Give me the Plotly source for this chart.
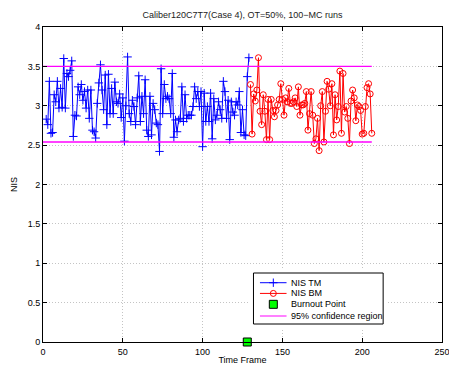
import plotly.graph_objects as go

# NIS of the track-mode filter (frames 2..129)
tm_frames = list(range(2, 130))
nis_tm = [
    2.83, 2.76, 3.31, 2.65, 2.66, 3.14, 3.05, 3.31, 2.97, 3.22,
    2.98, 3.60, 2.97, 3.41, 3.37, 3.45, 3.57, 2.61, 2.88, 2.87,
    3.24, 3.14, 3.27, 3.07, 3.18, 2.97, 3.20, 2.84, 3.20, 2.69,
    2.67, 2.59, 3.03, 3.29, 3.52, 3.20, 2.95, 3.39, 2.76, 3.40,
    2.90, 3.22, 2.90, 3.30, 3.05, 3.03, 3.15, 2.85, 3.10, 2.55,
    3.00, 3.62, 2.90, 2.80, 3.07, 2.99, 2.76, 3.10, 3.38, 2.80,
    3.12, 2.90, 3.33, 2.69, 2.61, 3.12, 2.63, 3.03, 2.95, 2.78,
    2.76, 2.42, 3.47, 2.90, 3.27, 3.09, 3.12, 3.09, 2.90, 3.41,
    2.60, 2.82, 2.67, 2.82, 2.84, 3.24, 2.80, 3.14, 2.84, 2.88,
    2.88, 2.88, 2.99, 3.24, 3.09, 3.18, 2.99, 3.18, 2.48, 3.16,
    2.80, 2.99, 2.80, 3.16, 2.58, 3.09, 2.82, 2.88, 3.05, 2.95,
    2.84, 3.31, 3.18, 2.84, 3.07, 2.57, 3.05, 2.92, 2.88, 3.05,
    3.01, 3.18, 2.66, 2.95, 2.63, 2.62, 3.37, 3.61,
]

# NIS of the burnout-mode filter (frames 130..206)
bm_frames = list(range(130, 207))
nis_bm = [
    3.27, 2.64, 3.15, 3.06, 3.20, 3.61, 2.93, 2.76, 3.14, 2.93,
    2.57, 3.08, 2.57, 3.08, 2.94, 2.86, 2.94, 3.01, 3.08, 3.28,
    3.08, 2.88, 3.10, 3.05, 3.22, 3.03, 3.03, 3.05, 3.10, 2.99,
    3.24, 2.88, 3.01, 3.01, 3.03, 3.18, 2.69, 2.90, 3.18, 2.88,
    2.52, 2.58, 2.84, 2.43, 3.00, 3.18, 2.54, 2.93, 3.31, 3.21,
    3.00, 3.28, 2.63, 3.14, 2.82, 2.99, 3.44, 2.65, 3.41, 2.92,
    2.99, 2.84, 2.52, 3.06, 3.20, 3.10, 2.81, 3.01, 2.99, 2.94,
    2.64, 2.65, 2.99, 3.23, 3.28, 3.15, 2.65,
]

burnout_frame = [128]
burnout_level = [0]

# 95% chi-square bounds (100 MC runs)
conf_frames = [0, 206]
conf_upper = 3.50
conf_lower = 2.54

x_ticks = [0, 50, 100, 150, 200, 250]
y_ticks = [0, 0.5, 1, 1.5, 2, 2.5, 3, 3.5, 4]
y_tick_text = ["0", "0.5", "1", "1.5", "2", "2.5", "3", "3.5", "4"]

legend_labels = ["NIS TM", "NIS BM", "Burnout Point", "95% confidence region"]

font = "Liberation Sans, Arial, sans-serif"
blue, red, green, magenta = "#0000ff", "#ff0000", "#00ff00", "#ff00ff"

fig = go.Figure()

fig.add_trace(go.Scatter(
    x=tm_frames, y=nis_tm, mode="lines+markers",
    line=dict(color=blue, width=1),
    marker=dict(symbol="cross-thin", size=6, color=blue,
                line=dict(color=blue, width=1)),
))
fig.add_trace(go.Scatter(
    x=bm_frames, y=nis_bm, mode="lines+markers",
    line=dict(color=red, width=1),
    marker=dict(symbol="circle-open", size=6, color=red,
                line=dict(color=red, width=1)),
))
fig.add_trace(go.Scatter(
    x=burnout_frame, y=burnout_level, mode="markers",
    marker=dict(symbol="square", size=8, color=green,
                line=dict(color="black", width=1)),
    cliponaxis=False,
))
for level in (conf_upper, conf_lower):
    fig.add_trace(go.Scatter(
        x=conf_frames, y=[level] * len(conf_frames), mode="lines",
        line=dict(color=magenta, width=1.3),
    ))

# --- boxed legend panel on its own hidden axes (unit square = box) ---
box = dict(xaxis="x2", yaxis="y2", hoverinfo="skip")
fig.add_trace(go.Scatter(
    x=[0, 1, 1, 0, 0], y=[0, 0, 1, 1, 0], mode="lines", fill="toself",
    fillcolor="white", line=dict(color="black", width=1), **box,
))
rows = [0.81, 0.60, 0.386, 0.157]
sample_x = [0.05, 0.255]
mark_x = [0.153]
fig.add_trace(go.Scatter(x=sample_x, y=[rows[0]] * 2, mode="lines",
                         line=dict(color=blue, width=1), **box))
fig.add_trace(go.Scatter(x=mark_x, y=[rows[0]], mode="markers",
                         marker=dict(symbol="cross-thin", size=6, color=blue,
                                     line=dict(color=blue, width=1)), **box))
fig.add_trace(go.Scatter(x=sample_x, y=[rows[1]] * 2, mode="lines",
                         line=dict(color=red, width=1), **box))
fig.add_trace(go.Scatter(x=mark_x, y=[rows[1]], mode="markers",
                         marker=dict(symbol="circle-open", size=6, color=red,
                                     line=dict(color=red, width=1)), **box))
fig.add_trace(go.Scatter(x=mark_x, y=[rows[2]], mode="markers",
                         marker=dict(symbol="square", size=8, color=green,
                                     line=dict(color="black", width=1)), **box))
fig.add_trace(go.Scatter(x=sample_x, y=[rows[3]] * 2, mode="lines",
                         line=dict(color="#ff80ff", width=2), **box))
for label, row in zip(legend_labels, rows):
    fig.add_annotation(x=0.277, y=row, xref="x2", yref="y2", text=label,
                       showarrow=False, xanchor="left", yanchor="middle",
                       font=dict(family=font, size=9, color="black"))

axis_common = dict(
    showline=True, linecolor="black", linewidth=1, mirror="ticks",
    ticks="inside", ticklen=4, tickcolor="black", automargin=False,
    showgrid=True, gridcolor="#c4c4c4", griddash="1px,2px", gridwidth=1,
    zeroline=False, tickfont=dict(family=font, size=9, color="black"),
    ticklabeloverflow="allow",
)
hidden = dict(visible=False, showgrid=False, zeroline=False, fixedrange=True)

fig.update_layout(
    width=449, height=365,
    margin=dict(l=43, r=7, t=27, b=23, autoexpand=False),
    paper_bgcolor="white", plot_bgcolor="white",
    showlegend=False,
    title=dict(text="Caliber120C7T7(Case 4), OT=50%, 100\u2212MC runs",
               x=0.54, xanchor="center", y=0.96, yanchor="middle",
               font=dict(family=font, size=9, color="#222222")),
    xaxis=dict(range=[0, 250], tickvals=x_ticks, ticklabelstandoff=1,
               title=dict(text="Time Frame", standoff=5,
                          font=dict(family=font, size=9, color="black")),
               **axis_common),
    yaxis=dict(range=[0, 4], tickvals=y_ticks, ticktext=y_tick_text,
               title=dict(text="NIS", standoff=8,
                          font=dict(family=font, size=9, color="black")),
               **axis_common),
    xaxis2=dict(domain=[0.5175, 0.8625], range=[-0.0308, 1.0308],
                anchor="y2", **hidden),
    yaxis2=dict(domain=[0.0444, 0.2317], range=[-0.0784, 1.0784],
                anchor="x2", **hidden),
)

fig.write_html("out.html")
